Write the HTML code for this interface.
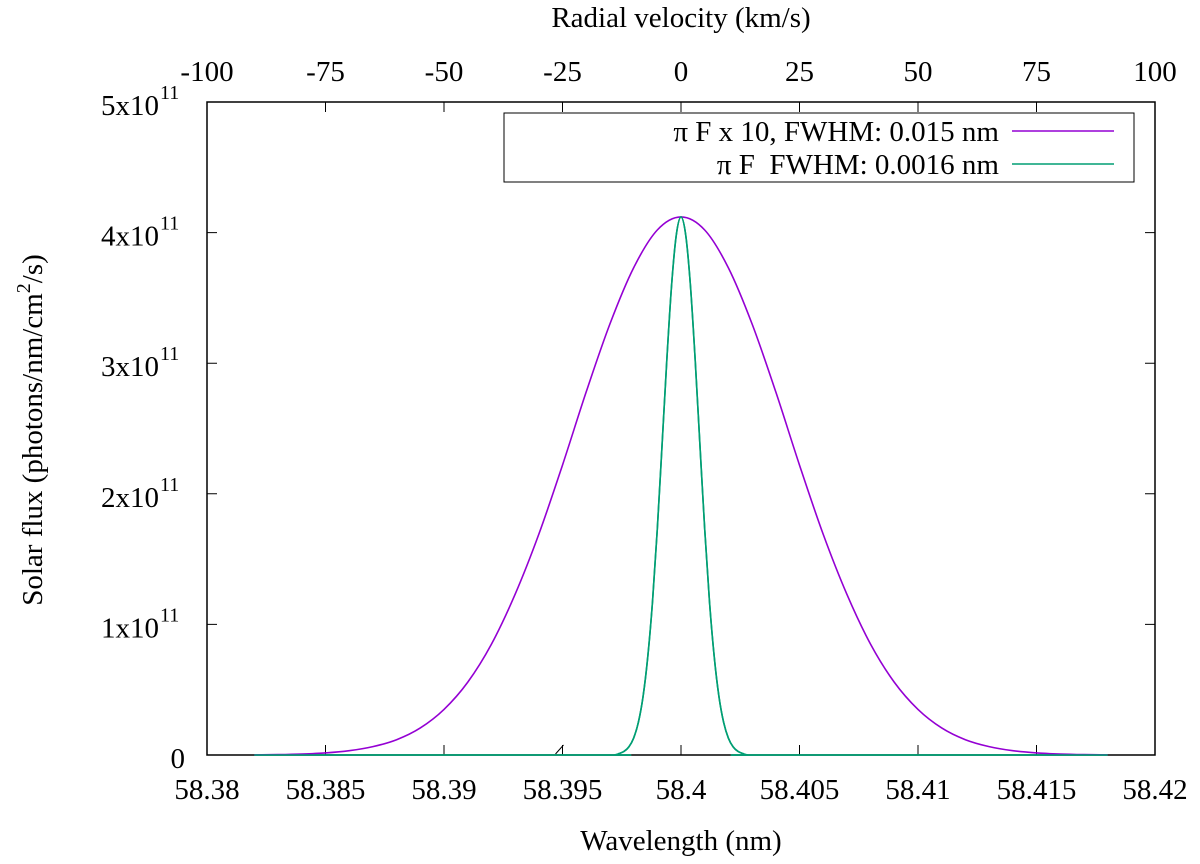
<!DOCTYPE html>
<html><head><meta charset="utf-8"><style>
html,body{margin:0;padding:0;background:#fff;width:1200px;height:864px;overflow:hidden}
svg{display:block}
text{font-family:"Liberation Serif","Times New Roman",Times,"DejaVu Serif",serif}
</style></head><body>
<svg id="chart" width="1200" height="864" viewBox="0 0 1200 864" xmlns="http://www.w3.org/2000/svg">
<g id="axes"></g>
<g id="series"></g>
<g id="legend"></g>
</svg>
<script>
// ---- data ----
const xTicks = [58.38, 58.385, 58.39, 58.395, 58.4, 58.405, 58.41, 58.415, 58.42];
const xTickLabels = ["58.38","58.385","58.39","58.395","58.4","58.405","58.41","58.415","58.42"];
const yTicks = [0, 1, 2, 3, 4, 5];
const yTickLabels = ["0","1x10","2x10","3x10","4x10","5x10"];
const vTicks = [-100, -75, -50, -25, 0, 25, 50, 75, 100];
const vTickLabels = ["-100","-75","-50","-25","0","25","50","75","100"];
// purple series: wavelength (nm) and flux (x1e11)
const purpleX = [58.382,58.383,58.384,58.385,58.386,58.387,58.388,58.389,58.390,58.391,58.392,58.393,58.394,58.395,58.396,58.397,58.398,58.399,58.400,58.401,58.402,58.403,58.404,58.405,58.406,58.407,58.408,58.409,58.410,58.411,58.412,58.413,58.414,58.415,58.416,58.417,58.418];
const purpleY = [0.001,0.003,0.0074,0.016,0.033,0.064,0.117,0.207,0.349,0.557,0.848,1.23,1.69,2.22,2.78,3.30,3.73,4.02,4.12,4.02,3.73,3.30,2.78,2.22,1.69,1.23,0.848,0.557,0.349,0.207,0.117,0.064,0.033,0.016,0.0074,0.003,0.001];
// green series
const greenX = [58.382,58.3966,58.3972,58.3974,58.3976,58.3978,58.398,58.3982,58.3984,58.3986,58.3988,58.399,58.3992,58.3994,58.3996,58.3998,58.400,58.4002,58.4004,58.4006,58.4008,58.401,58.4012,58.4014,58.4016,58.4018,58.402,58.4022,58.4024,58.4026,58.4028,58.4034,58.418];
const greenY = [0,0,0.001,0.012,0.028,0.062,0.129,0.249,0.449,0.756,1.18,1.73,2.37,3.02,3.59,3.98,4.12,3.98,3.59,3.02,2.37,1.73,1.18,0.756,0.449,0.249,0.129,0.062,0.028,0.012,0.001,0,0];
</script>
<script>
const NS="http://www.w3.org/2000/svg";
const FS=29, SS=20;
const L=207,R=1155,T=102,B=755;
const xS=v=>L+(v-58.38)/(58.42-58.38)*(R-L);
const yS=v=>B-v/5*(B-T);
const vS=v=>L+(v+100)/200*(R-L);
function mk(tag,attrs,parent,text){const e=document.createElementNS(NS,tag);for(const k in attrs)e.setAttribute(k,attrs[k]);if(text!==undefined)e.textContent=text;parent.appendChild(e);return e;}
const ax=document.getElementById('axes');
const frame=mk('rect',{x:L,y:T,width:R-L,height:B-T,fill:'none',stroke:'#000','stroke-width':1.5},ax);


xTicks.forEach((t,i)=>{
  const x=xS(t);
  const tk=mk('path',{d:`M${x},${B}v-10`,stroke:'#000','stroke-width':1},ax);
  
  
  const lb=mk('text',{x:x,y:B+44,'text-anchor':'middle','font-size':FS},ax,xTickLabels[i]);
  
  
});
vTicks.forEach((t,i)=>{
  const x=vS(t);
  const tk=mk('path',{d:`M${x},${T}v10`,stroke:'#000','stroke-width':1},ax);
  
  
  const lb=mk('text',{x:x,y:T-21,'text-anchor':'middle','font-size':FS},ax,vTickLabels[i]);
  
  
});
yTicks.forEach((t,i)=>{
  const y=yS(t);
  const tk=mk('path',{d:`M${L},${y}h10M${R},${y}h-10`,stroke:'#000','stroke-width':1},ax);
  
  
  const lb=mk('text',{x:t===0?185:159,y:y+13,'text-anchor':'end','font-size':FS},ax,yTickLabels[i]);
  
  
  if(t!==0){const s=mk('text',{x:160,y:y-3,'font-size':SS},ax,'11');
    
    }
});
const sl=mk('path',{d:`M${xS(58.395)-7},${B-1}l8,-9`,stroke:'#000','stroke-width':1},ax);


const xt=mk('text',{x:(L+R)/2,y:850,'text-anchor':'middle','font-size':FS},ax,'Wavelength (nm)');


const tt=mk('text',{x:(L+R)/2,y:27,'text-anchor':'middle','font-size':FS},ax,'Radial velocity (km/s)');


const yt=mk('text',{transform:'translate(42,430) rotate(-90)','text-anchor':'middle','font-size':FS},ax);


yt.innerHTML='Solar flux (photons/nm/cm<tspan dy="-12" font-size="20">2</tspan><tspan dy="12">/s)</tspan>';
function curve(xs,ys){
  const p=xs.map((x,i)=>[xS(x),yS(ys[i])]);
  let d=`M${p[0][0]},${p[0][1]}`;
  for(let i=0;i<p.length-1;i++){
    const p0=p[Math.max(0,i-1)],p1=p[i],p2=p[i+1],p3=p[Math.min(p.length-1,i+2)];
    const c1=[p1[0]+(p2[0]-p0[0])/6,p1[1]+(p2[1]-p0[1])/6];
    const c2=[p2[0]-(p3[0]-p1[0])/6,p2[1]-(p3[1]-p1[1])/6];
    d+=`C${c1[0]},${c1[1]} ${c2[0]},${c2[1]} ${p2[0]},${p2[1]}`;
  }
  return d;
}
const sg=document.getElementById('series');
const gl=mk('path',{d:curve(greenX,greenY),fill:'none',stroke:'#009e73','stroke-width':1.6},sg);


const pl=mk('path',{d:curve(purpleX,purpleY),fill:'none',stroke:'#9400d3','stroke-width':1.6},sg);


const gl2=mk('path',{d:curve(greenX,greenY),fill:'none',stroke:'#009e73','stroke-width':1.6},sg);


const lg=document.getElementById('legend');
const box=mk('rect',{x:504,y:113,width:630,height:69,fill:'#fff',stroke:'#000','stroke-width':1},lg);


[['π F x 10, FWHM: 0.015 nm','#9400d3',131],['π F  FWHM: 0.0016 nm','#009e73',164]].forEach(e=>{
  const t=mk('text',{x:999,y:e[2]+10,'text-anchor':'end','font-size':FS},lg,e[0]);
  t.setAttribute('xml:space','preserve');
  t.style.whiteSpace='pre';
  
  
  const l=mk('path',{d:`M1012,${e[2]}H1114`,stroke:e[1],'stroke-width':1.6},lg);
  
  
});
</script>
</body></html>
